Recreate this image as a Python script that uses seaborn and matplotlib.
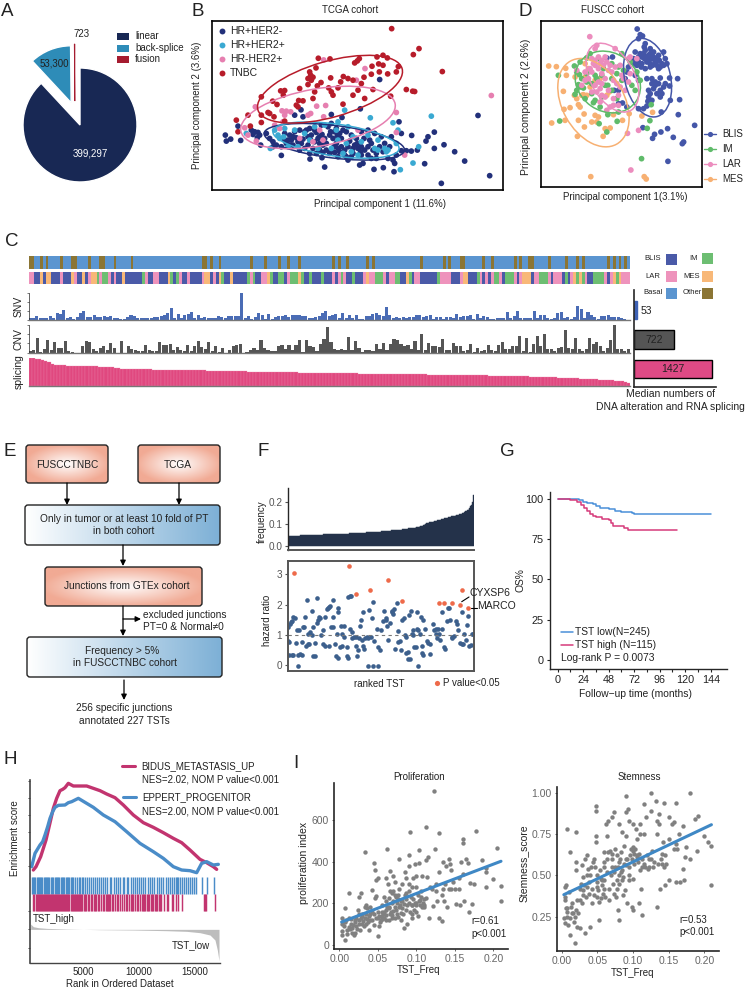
import numpy as np
import pandas as pd
import seaborn as sns
import matplotlib.pyplot as plt
from matplotlib.colors import ListedColormap
from matplotlib.patches import Ellipse, FancyBboxPatch, Rectangle

W, H = 745, 989
DARK = '#222222'

##############################
### DATA
##############################

# A
pie_labels = ['fusion', 'back-splice', 'linear']
pie_values = [723, 53300, 399297]

# B, PC scores on an arbitrary scale
tcga_navy = [(62,360),(65,378),(78,372),(108,376),(100,333),(140,345),(150,350),(160,352),(145,358),(165,360),(158,368),(168,390),
  (230,421),(205,380),(215,390),(230,395),(245,385),(250,375),(265,390),(280,380),(290,385),(255,360),(270,350),(285,345),(300,350),
  (310,365),(320,360),(330,380),(345,385),(355,390),(360,370),(375,360),(385,370),(395,385),(310,390),(325,400),(345,405),(365,405),
  (380,410),(400,400),(410,395),(420,405),(430,395),(450,390),(460,400),(470,395),(480,405),(490,395),(500,385),(315,340),(330,345),
  (350,330),(370,335),(380,325),(390,350),(405,355),(425,350),(440,360),(455,370),(470,350),(490,345),(510,355),(530,365),(540,385),
  (555,395),(560,365),(316,432),(352,428),(360,456),(430,435),(465,450),(475,445),(508,463),(536,458),(568,470),(590,407),(605,407),
  (620,408),(638,405),(575,420),(565,435),(570,445),(660,446),(689,400),(718,389),(750,410),(780,438),(710,505),(855,482),(820,301),
  (689,351),(670,365),(664,378),(621,361),(583,320),(590,355),(289,284),(295,305),(270,300),(412,307),(380,298),(467,281),(525,193),
  (400,425),(420,420),(440,425),(375,415),(550,430),(500,430),(240,355),(260,375),(275,368),(295,372),(305,345),(318,375),(335,352),
  (340,370),(352,358),(365,385),(378,350),(388,395),(398,362),(410,370),(415,345),(435,378),(445,400),(458,385),(468,410),(478,370),
  (495,375),(505,405),(515,415),(525,395),(535,410),(285,405),(300,400),(315,415),(335,415),(355,412),(390,412),(405,410),(425,425),
  (445,415),(470,420),(490,420),(515,430),(345,365),(395,340),(265,365),(255,390),(240,375),(195,370),(185,355),(205,395)]
tcga_blue = [(680,303),(497,308),(420,285),(565,323),(580,345),(642,395),(625,444),(587,464),(197,400),(237,365),(220,360),(250,395),
  (270,345),(400,320),(395,345),(430,335),(490,360),(520,375),(540,400),(545,410),(425,385),(440,410),(415,415),(400,375),(510,400),
  (520,405),(460,420),(470,380),(300,355),(330,335),(340,400),(380,400),(240,340),(210,345),(225,370),(445,365),(125,355),(360,330),
  (280,395),(315,375),(550,405),(575,385)]
tcga_pink = [(357,134),(481,160),(455,195),(860,241),(336,273),(363,271),(232,287),(245,288),(258,290),(318,295),(310,300),(357,305),
  (152,275),(120,338),(575,292),(575,352),(235,320),(225,340),(285,370),(345,345),(355,375),(325,380),(460,345),(600,420),(130,360),
  (155,378),(240,300),(210,330)]
tcga_red = [(561,40),(643,100),(626,118),(713,169),(341,129),(376,131),(464,130),(458,137),(450,143),(517,125),(535,120),(548,128),
  (522,146),(535,150),(581,154),(502,153),(334,158),(575,170),(549,176),(500,177),(478,186),(416,184),(378,188),(315,170),(318,180),
  (325,186),(310,190),(320,195),(349,202),(338,212),(310,208),(285,220),(240,226),(228,227),(236,240),(170,245),(204,258),(217,268),
  (330,230),(325,250),(295,257),(282,256),(275,270),(280,275),(372,218),(380,230),(385,240),(400,218),(408,200),(445,240),(480,250),
  (505,223),(558,243),(605,223),(624,228),(630,229),(445,195),(430,190),(170,300),(190,292),(195,295),(208,305),(130,300),(95,315),
  (137,333),(100,350),(170,322),(240,318),(415,267),(460,225),(470,205),(524,170)]
# centre x, centre y, width, height, angle of each group ellipse, read in PC units
tcga_ellipses = {'HR+HER2-': (389, 380, 424, 98, 7), 'HR+HER2+': (394, 375, 382, 96, 8),
                 'HR-HER2+': (340, 307, 470, 172, -10), 'TNBC': (376, 222, 450, 168, -16)}

# D
fuscc_blis = [(306,41),(315,58),(322,62),(310,70),(330,85),(327,95),(300,110),(315,115),(330,105),(345,100),(355,110),(370,120),
  (385,110),(390,130),(340,120),(350,130),(360,140),(345,145),(335,140),(320,125),(310,140),(318,155),(330,160),(345,155),(370,160),
  (385,150),(375,155),(280,155),(295,130),(300,180),(310,195),(335,190),(350,190),(375,188),(403,188),(427,190),(370,205),(360,210),
  (355,220),(403,212),(385,215),(375,225),(345,235),(340,245),(350,255),(375,245),(405,255),(433,253),(310,280),(325,280),(335,272),
  (378,290),(429,298),(478,330),(323,337),(377,350),(397,340),(358,357),(352,369),(414,366),(445,380),(441,385),(398,438),(250,265),
  (262,263),(275,275),(237,225),(250,225),(275,170),(270,190),(215,128),(232,125),(325,115),(335,125),(345,115),(352,122),(362,128),
  (372,135),(380,145),(340,132),(328,130),(305,150),(298,145),(352,150),(365,150),(395,145),(360,200),(350,205),(390,205),(380,235),
  (340,225),(338,258),(365,235),(320,145),(310,125)]
fuscc_im = [(118,152),(70,180),(125,170),(133,178),(130,208),(125,225),(120,237),(135,215),(165,115),(155,128),(190,130),(205,160),
  (180,180),(185,190),(155,200),(145,218),(170,235),(150,250),(175,262),(195,275),(245,175),(230,145),(260,115),(210,210),(218,210),
  (245,250),(218,298),(250,290),(300,225),(290,210),(305,170),(315,195),(74,317),(192,325),(246,318),(215,350),(344,316),(336,339),
  (348,268),(319,430),(135,140),(200,180),(230,190),(170,205),(155,175),(250,155),(265,165),(285,140),(260,195),(230,225),(200,245),
  (180,255),(140,190)]
fuscc_lar = [(164,64),(180,100),(185,90),(240,100),(170,130),(180,135),(190,125),(195,145),(210,125),(215,140),(180,150),(165,160),
  (150,170),(125,165),(220,165),(230,170),(255,150),(280,130),(285,125),(305,130),(190,200),(170,230),(185,230),(200,240),(220,225),
  (195,260),(215,285),(235,270),(250,240),(270,225),(280,200),(285,175),(310,345),(277,354),(287,464),(265,190),(245,205),(140,210),
  (160,190),(200,135),(205,150),(175,145),(190,160),(225,150),(240,155),(170,170),(200,175),(210,190),(235,195),(180,210),(195,220),
  (210,245),(235,250),(255,215),(260,180),(150,195),(225,275),(250,270),(200,205)]
fuscc_mes = [(41,152),(64,154),(92,159),(94,180),(150,145),(150,185),(120,185),(85,228),(155,240),(145,238),(118,240),(105,277),
  (87,282),(130,268),(135,275),(147,296),(190,305),(130,315),(90,315),(50,323),(148,335),(170,320),(185,320),(210,340),(225,338),
  (127,363),(204,363),(262,315),(282,295),(320,302),(352,291),(235,298),(222,230),(195,190),(167,484),(327,484),(333,491),(160,160),
  (180,195),(140,240),(165,215),(125,250),(215,240),(180,300)]
fuscc_ellipses = {'BLIS': (337, 187, 240, 137, 77), 'MES': (175, 262, 285, 186, 61),
                  'IM': (218, 200, 205, 175, 35), 'LAR': (232, 187, 225, 130, 61)}

# C
other_samples = [0,1,4,6,11,15,16,21,25,26,30,36,61,62,64,67,78,83,88,91,95,107,109,112,119,121,138,146,148,152,153,160,163,171,173,
  176,177,183,189,193,195,204,206,208,210]
subtype_runs = ('L2 B2 M1 B1 M2 B3 L1 B3 M1 L1 B2 M1 B1 L1 M2 I1 L1 I2 L1 B1 L1 B2 M1 B2 B4 I1 L1 B2 L2 B3 M1 I1 B1 I1 L1 B2 L1 B4 L1 M2 '
  'B1 L1 B1 M1 I1 B2 M1 B5 I1 L1 I1 B2 L2 M1 I1 B2 I2 B1 L1 I3 M1 I1 B2 I1 B3 I1 B3 L1 B1 L1 I1 L1 B2 I1 B3 L1 M1 L2 I3 L1 B1 L2 I2 B2 '
  'M1 I1 B1 L2 B6 I1 L4 B3 L1 M2 B3 I1 L1 B1 L1 B1 L1 I2 L1 B1 I3 L1 B1 L1 M3 B1 L2 I3 L1 B1 L3 B1 I1 B1 L1 M1 I1 M1 I1 L1 B2 I4 L1 B1 '
  'L1 M1 I1 M1 L3')
snv_values = [5,5,11,5,5,5,9,3,18,15,27,5,7,1,8,18,24,6,6,12,8,8,11,8,9,5,5,2,2,8,13,9,4,5,5,3,5,8,8,10,12,20,35,5,16,3,12,15,23,3,14,5,
  6,5,3,3,10,8,3,9,9,11,9,78,3,10,1,6,20,14,1,16,1,8,10,9,14,6,13,12,13,9,10,4,4,7,10,20,24,10,12,15,3,
  18,5,14,5,14,1,1,10,10,15,18,12,10,38,12,3,8,3,6,3,8,8,12,14,6,10,12,2,8,8,2,7,6,3,16,6,10,9,12,2,17,3,9,8,1,2,3,4,4,22,4,10,24,4,4,3,
  5,26,3,12,12,3,2,3,20,23,3,6,2,7,40,30,3,22,12,6,2,9,9,12,8,7,6,4,1,0]
cnv_values = [3,8,44,2,10,36,8,32,13,13,33,5,2,0,0,18,33,32,10,5,12,18,6,29,13,0,35,0,20,9,6,4,4,23,6,5,3,32,23,22,26,8,16,6,3,22,3,18,
  35,15,10,32,3,18,2,12,0,6,18,22,25,0,2,6,14,6,36,13,8,5,5,18,22,9,23,6,22,36,2,38,20,15,4,25,40,77,30,9,6,
  10,8,46,8,35,12,2,8,8,5,25,10,28,7,25,40,38,25,20,22,10,35,8,54,8,28,18,18,15,40,8,6,28,20,18,3,6,25,2,12,5,6,22,6,3,21,32,9,10,18,18,
  48,4,42,1,25,50,18,54,9,10,5,14,16,68,14,10,42,10,3,10,42,24,30,18,3,12,38,82,10,10,5,10]
splicing_values = [81,80,79,78,76,72,68,64,61,60,59,59,58,58,58,58,58,57,57,57,56,56,55,55,55,54,54,53,52,50,50,49,49,49,49,49,48,48,48,
  47,47,47,47,47,47,46,46,46,46,46,45,45,45,45,45,45,44,44,44,44,43,43,43,43,42,42,42,42,42,41,41,41,41,41,40,40,40,40,40,40,39,39,39,39,
  39,38,38,38,38,38,38,37,37,37,37,37,37,36,36,36,36,36,36,36,35,35,35,35,35,35,35,34,34,34,34,34,34,34,33,33,33,33,33,33,33,33,32,32,32,
  32,32,32,32,31,31,31,31,31,31,30,30,30,30,30,30,29,29,29,29,29,28,28,28,28,27,27,27,27,26,26,26,25,25,25,24,24,24,23,23,22,22,22,21,21,
  20,20,19,19,18,18,17,17,16,15,15,14,13,12,10,6]
median_names = ['SNV', 'CNV', 'splicing']
median_values = [53, 722, 1427]

# F
tst_frequency = [v / 1000 for v in [45,45,46,46,46,46,46,47,47,47,47,47,47,47,48,48,48,48,48,48,48,49,49,49,49,49,49,49,50,50,
  50,50,50,50,50,50,51,51,51,51,51,51,51,52,52,52,52,52,52,52,52,53,53,53,53,53,53,54,54,54,54,54,54,55,55,55,55,55,55,56,
  56,56,56,56,56,57,57,57,57,57,58,58,58,58,58,58,59,59,59,59,60,60,60,60,60,61,61,61,61,62,62,62,62,63,63,63,63,64,64,64,
  64,65,65,65,66,66,66,67,67,67,68,68,68,69,69,69,70,70,70,71,71,71,72,72,72,73,73,74,74,75,75,76,76,77,77,78,78,79,79,80,
  80,81,81,82,83,83,84,84,85,86,87,88,89,90,92,94,96,98,100,102,103,104,105,106,107,108,109,110,111,112,113,114,115,116,117,118,119,120,121,122,
  123,124,125,126,127,128,129,130,131,132,133,134,135,136,137,138,139,140,141,142,143,144,146,148,150,152,154,156,158,160,163,167,172,178,186,200,230]]
hr_other = [(100,1.25),(106,1.35),(108,1.42),(110,1.45),(113,1.6),(120,1.57),(100,.8),(103,.78),(103,.33),(110,.33),(115,.34),(122,.75),
  (125,1.15),(132,1.17),(128,.35),(135,.37),(140,.35),(130,-.02),(142,.77),(145,1.28),(148,1.25),(150,1.6),(155,2.15),(152,.65),(158,.7),
  (162,.7),(160,1.05),(165,1.1),(170,1.0),(172,1.8),(175,1.25),(180,.75),(173,.31),(180,.32),(185,2.22),(185,1.4),(190,1.5),(192,1.6),
  (195,1.55),(198,1.0),(205,1.15),(205,.7),(210,.65),(210,1.6),(215,1.85),(218,1.88),(222,1.93),(226,1.95),(222,.65),(228,1.25),(235,1.28),
  (233,2.17),(235,1.6),(240,.7),(245,1.05),(243,.3),(250,.25),(248,1.75),(248,1.88),(258,1.3),(268,1.3),(255,.6),(262,1.05),(260,.65),
  (268,.95),(275,.3),(278,.25),(277,.6),(285,1.2),(278,2.25),(284,2.27),(288,2.28),(292,1.1),(292,.9),(297,.93),(302,.95),(304,.65),(310,.5),
  (307,.3),(312,.9),(315,1.3),(318,1.5),(323,1.77),(322,.85),(325,.65),(328,.55),(331,.9),(335,.95),(342,1.82),(340,.9),(348,.93),(352,1.55),
  (355,2.1),(357,.8),(365,1.2),(370,.6),(375,.5),(378,1.15),(388,1.8),(385,1.45),(392,1.5),(394,1.55),(395,1.3),(400,.85),(405,1.4),(412,1.8),
  (410,1.75),(416,1.85),(415,1.7),(420,.55),(425,2.05),(428,1.12),(430,.78),(435,.8),(437,.5),(440,1.5),(448,1.55),(450,1.0),(452,.95),(454,.4),
  (458,.45),(460,.2),(464,.2),(462,1.65),(468,1.78),(472,1.05),(475,1.15),(478,.6),(482,.6),(485,1.75),(487,1.2),(490,1.18),(495,1.05),
  (498,1.6),(502,.65),(505,1.5),(510,1.2),(515,.8),(520,.75),(525,.72),(524,.37),(503,.35),(500,.4),(534,1.35),(536,1.18),(542,1.2),(546,.9),
  (550,1.2),(552,1.05),(556,.85),(560,1.75),(562,1.2),(568,.6),(570,.55),(575,1.47),(583,1.88),(578,1.88),(585,1.5),(590,.9),(592,.95),
  (598,.97),(602,1.45),(605,1.35),(610,1.15),(615,.75),(620,.72),(622,1.77),(625,.7),(628,1.02),(632,.85),(636,1.33),(640,1.62),(643,.65),
  (648,.68),(650,1.05),(655,1.05),(490,-.03),(338,-.02),(353,-.02),(368,-.02),(475,1.0),(544,1.03)]
hr_signif = [(118,3.05),(282,3.28),(302,2.35),(345,2.5),(399,2.8),(441,2.13),(551,2.04),(568,2.05),(591,2.07),(615,2.0),(622,2.5),(639,1.88)]

# G
os_low_time = [0,12,14,20,24,28,33,36,40,48,54,60,66,70,72,120,144]
os_low_surv = [100,100,99.5,99,98,97.5,96.5,95.5,94.5,93.5,92.5,91.8,91.5,91,90.5,90.5,90.5]
os_high_time = [0,9,12,18,22,25,28,30,33,36,42,48,50,52,58,62,66,112]
os_high_surv = [100,100,99,98,96,94,92.5,90.5,89,88.5,87.5,86.5,85,83,82.8,81.5,80.5,80.5]

# H, rank and score read in picture units, converted in gsea_rank and gsea_score
bidus_curve = [(100,450),(108,440),(115,425),(122,410),(130,385),(138,360),(145,330),(152,300),(160,265),(170,235),(180,212),(188,208),(195,203),
  (205,190),(220,198),(240,198),(260,198),(280,205),(300,212),(320,222),(345,233),(370,255),(400,285),(430,308),(460,322),(490,338),(520,355),
  (545,368),(570,390),(600,418),(620,428),(640,440),(650,448)]
eppert_curve = [(95,440),(105,400),(120,375),(128,365),(135,345),(143,320),(150,295),(158,275),(165,262),(175,256),(195,255),(205,248),(215,245),
  (235,235),(255,247),(280,262),(310,285),(345,305),(380,335),(420,370),(460,395),(490,415),(520,440),(545,450),(570,452),(590,458),(605,430),
  (620,425),(640,435),(655,433)]
eppert_hits = [95,98,102,106,110,113,117,120,124,127,131,134,138,141,145,148,152,156,160,164,167,171,175,178,182,186,189,193,197,200,204,
  208,212,216,220,226,232,236,241,246,250,255,260,268,272,278,284,290,297,303,310,316,322,330,334,341,347,354,360,368,373,380,385,393,
  400,405,410,416,423,430,436,443,450,456,462,470,478,484,490,497,504,509,516,521,528,532,535,540,547,552,557,563,569,575,581,588,605,620,641]
bidus_hits = [100,103,107,110,113,116,119,122,125,128,131,134,137,140,143,146,149,152,155,158,161,164,167,170,173,176,179,182,185,188,191,
  194,197,200,203,206,212,215,218,222,225,228,231,234,237,240,243,246,252,255,258,264,268,273,276,282,286,289,293,298,302,308,312,317,320,
  323,327,331,335,340,345,350,355,360,366,371,378,382,387,392,396,400,405,410,415,420,425,430,433,436,440,444,448,452,456,460,464,468,472,
  476,480,483,492,500,504,516,520,527,533,545,612,615,618,646]
rank_metric = [(92,612),(100,620),(115,623),(140,625),(200,627),(300,629),(400,630),(500,632),(560,634),(600,638),(630,645),(645,660),(652,690),(657,722)]

# I
prolif_pts = [(.003,130),(.003,65),(.003,50),(.005,110),(.006,90),(.007,175),(.008,25),(.009,120),(.01,70),(.01,55),(.012,250),(.013,130),
  (.014,75),(.016,60),(.018,95),(.019,50),(.02,120),(.02,60),(.022,130),(.022,90),(.024,170),(.025,230),(.026,120),(.027,70),(.028,250),
  (.029,150),(.03,100),(.03,140),(.032,90),(.033,180),(.034,445),(.035,190),(.036,175),(.036,125),(.037,110),(.038,70),(.04,180),(.04,150),
  (.042,265),(.043,160),(.045,95),(.045,395),(.046,225),(.046,360),(.047,310),(.048,235),(.05,320),(.05,130),(.05,45),(.052,90),(.053,110),
  (.055,190),(.056,160),(.057,150),(.058,130),(.06,210),(.06,145),(.061,320),(.062,460),(.063,290),(.064,120),(.065,225),(.066,355),(.067,160),
  (.068,200),(.069,145),(.07,330),(.07,260),(.072,300),(.072,180),(.074,230),(.075,150),(.076,240),(.077,270),(.078,410),(.079,190),(.08,120),
  (.081,290),(.082,175),(.083,150),(.084,80),(.085,350),(.086,320),(.087,220),(.088,100),(.09,430),(.09,380),(.09,290),(.092,540),(.093,230),
  (.094,190),(.095,130),(.096,320),(.097,170),(.098,390),(.099,330),(.1,200),(.1,160),(.102,240),(.103,395),(.104,455),(.105,190),(.106,260),
  (.108,330),(.109,200),(.11,220),(.112,565),(.113,405),(.114,325),(.115,420),(.116,130),(.118,280),(.12,270),(.122,185),(.123,740),(.124,460),
  (.125,290),(.127,210),(.13,535),(.13,350),(.13,130),(.133,240),(.134,115),(.135,400),(.136,210),(.137,290),(.138,380),(.14,180),(.142,270),
  (.143,410),(.144,390),(.145,360),(.148,300),(.15,270),(.152,195),(.155,270),(.157,190),(.158,400),(.16,510),(.16,490),(.16,340),(.162,210),
  (.165,410),(.167,395),(.168,160),(.17,295),(.172,195),(.175,290),(.178,545),(.185,405),(.19,370),(.19,350),(.191,280),(.2,315),(.205,465),
  (.21,285),(.21,210),(.06,170),(.07,210),(.08,210),(.085,240),(.09,260),(.095,190),(.1,280),(.105,215),(.11,180),(.065,180),(.075,200),
  (.055,140),(.045,150),(.035,150),(.025,150),(.015,125),(.125,260),(.135,270),(.145,270),(.155,320),
  (.004,100),(.008,110),(.012,85),(.015,100),(.017,80),(.021,110),(.023,75),(.026,100),(.028,130),(.031,115),(.033,130),(.035,100),(.038,140),
  (.04,120),(.043,120),(.047,130),(.05,160),(.052,140),(.054,120),(.056,125),(.058,160),(.06,120),(.062,180),(.064,175),(.066,150),(.068,130),
  (.07,165),(.072,130),(.074,170),(.076,135),(.078,180),(.08,155),(.082,210),(.084,195),(.086,170),(.088,190),(.09,200),(.092,160),(.094,150),
  (.096,220),(.098,200),(.1,190),(.102,140),(.104,210),(.106,230),(.108,180),(.11,190),(.112,225),(.072,240),(.066,260),(.058,230),(.086,250),
  (.094,280),(.076,220),(.068,250)]
stem_pts = [(.003,.24),(.004,.37),(.004,.43),(.005,.21),(.006,.44),(.007,.78),(.007,.28),(.008,.3),(.009,.2),(.01,.4),(.011,.64),(.012,.14),
  (.013,.31),(.015,.33),(.016,.27),(.018,.25),(.019,.09),(.02,.76),(.02,.58),(.02,.53),(.02,.29),(.022,.19),(.025,.18),(.025,.35),(.027,.45),
  (.028,.56),(.03,.49),(.03,.38),(.032,.15),(.033,.6),(.035,.62),(.035,.43),(.037,.54),(.038,.39),(.04,.5),(.04,.19),(.042,.33),(.044,.58),
  (.046,.6),(.047,.55),(.048,.92),(.048,.89),(.048,.74),(.048,.7),(.05,.5),(.05,.37),(.052,.23),(.053,.34),(.055,.48),(.056,.47),(.058,.39),
  (.06,.64),(.06,.58),(.06,.42),(.062,.81),(.063,.74),(.064,.52),(.065,.83),(.066,.35),(.068,.65),(.07,.85),(.07,.55),(.072,.45),(.074,.88),
  (.075,.66),(.076,.37),(.077,.62),(.078,.42),(.079,.29),(.08,.81),(.08,.5),(.08,.23),(.082,.6),(.083,.52),(.084,.47),(.085,.76),(.086,.38),
  (.088,.68),(.09,.98),(.09,.88),(.09,.74),(.09,.56),(.091,.33),(.093,.9),(.094,.5),(.095,.83),(.096,.62),(.098,.31),(.1,.81),(.1,.65),(.1,.48),
  (.1,.29),(.102,.57),(.104,.78),(.105,.72),(.106,.61),(.108,.33),(.11,.81),(.11,.75),(.11,.53),(.111,.42),(.112,.26),(.113,.55),(.115,.93),
  (.116,.75),(.118,.85),(.12,.62),(.121,.54),(.123,.55),(.125,1.0),(.125,.89),(.127,.65),(.13,.58),(.132,.95),(.133,.83),(.133,.75),(.134,.31),
  (.136,.87),(.137,.81),(.138,.42),(.14,.57),(.142,.7),(.144,.94),(.145,.44),(.146,.57),(.15,.85),(.151,.47),(.155,.81),(.157,.82),(.158,.66),
  (.16,.94),(.16,.46),(.162,.66),(.165,.75),(.166,.46),(.17,.8),(.17,.54),(.171,.47),(.173,.61),(.175,.67),(.18,1.0),(.18,.6),(.187,.84),(.19,.65),
  (.191,.86),(.2,.74),(.205,.7),(.21,.68),(.21,.44),(.03,.41),(.05,.43),(.06,.47),(.065,.64),(.07,.63),(.075,.55),(.08,.58),(.085,.53),(.09,.6),
  (.095,.55),(.1,.67),(.105,.62),(.115,.57),(.125,.6),(.135,.57),(.14,.63),(.15,.72),(.16,.69),(.145,.62),(.055,.36),
  (.004,.35),(.006,.3),(.008,.25),(.012,.24),(.014,.27),(.017,.22),(.021,.35),(.023,.27),(.026,.42),(.029,.33),(.031,.44),(.034,.37),(.036,.5),
  (.039,.46),(.041,.55),(.043,.42),(.045,.38),(.049,.46),(.051,.41),(.054,.53),(.057,.44),(.059,.55),(.061,.37),(.063,.6),(.067,.42),(.069,.5),
  (.071,.6),(.073,.39),(.074,.52),(.077,.47),(.079,.55),(.081,.45),(.083,.64),(.086,.49),(.087,.57),(.089,.41),(.092,.6),(.094,.47),(.097,.66),
  (.099,.6),(.101,.63),(.103,.66),(.107,.58),(.109,.63),(.112,.6),(.117,.55),(.122,.6),(.128,.55),(.139,.6),(.143,.55)]

##############################
### SETUP
##############################

sns.set_style('ticks')
plt.rcParams['font.family'] = ['Liberation Sans', 'DejaVu Sans']
plt.rcParams['font.size'] = 7
plt.rcParams['axes.linewidth'] = 1

fig = plt.figure(figsize=(W / 100, H / 100), dpi=100)

def add_ax(l, t, r, b):
  return fig.add_axes([l / W, 1 - b / H, (r - l) / W, (b - t) / H])

def bare(ax):
  ax.set(xticks=[], yticks=[], xlabel='', ylabel='')

def set_spine(ax, lw=1.2, color='black'):
  for s in ax.spines.values():
    s.set_linewidth(lw)
    s.set_color(color)

def group_ellipse(ax, params, color):
  cx, cy, w, h, angle = params
  ax.add_patch(Ellipse((cx, cy), w, h, angle=angle, fill=False, edgecolor=color, lw=1.1, zorder=5))

def scatter_groups(ax, groups, palette, size):
  df = pd.concat([pd.DataFrame(pts, columns=['pc1', 'pc2']).assign(group=name) for name, pts in groups.items()])
  sns.scatterplot(data=df, x='pc1', y='pc2', hue='group', palette=palette, s=size, linewidth=0, legend=False, ax=ax)

# page layer for the letters, flow chart and hand placed keys
page = fig.add_axes([0, 0, 1, 1], zorder=10)
page.patch.set_alpha(0)
page.axis('off')

def letter(s, x, y):
  page.text(x, y, s, fontsize=13.5, ha='center', va='center', color=DARK)

def txt(x, y, s, ha='center', size=7, color=DARK, rot=0):
  page.text(x, y, s, ha=ha, va='center', fontsize=size, color=color, rotation=rot)

##############################
### A
##############################
ax = add_ax(-15, 30, 175, 220)
wedges, _ = ax.pie(pie_values, colors=['#A51C30', '#2E8CB8', '#182854'], startangle=90, explode=[0.42, 0.42, 0], radius=1)
wedges[0].set_center((-0.09, 0.42))
wedges[0].set_edgecolor('#A51C30')
wedges[0].set_linewidth(0.6)
ax.set(xlim=(-1.667, 1.667), ylim=(-1.667, 1.667))
letter('A', 7, 11)
txt(82, 34, '723')
txt(54, 64, '53,300')
txt(90, 153, '399,297', color='white')
for y, c, s in zip([36, 48, 59], ['#182854', '#2E8CB8', '#A51C30'], ['linear', 'back-splice', 'fusion']):
  page.add_patch(Rectangle((117, y - 3.5), 12, 7, color=c, lw=0))
  txt(135, y, s, ha='left')

##############################
### B
##############################
ax = add_ax(212, 21, 503, 190)
tcga_colors = {'HR+HER2-': '#22307A', 'HR+HER2+': '#3AA9D2', 'HR-HER2+': '#E67FB0', 'TNBC': '#B71C2A'}
tcga_groups = {'HR+HER2-': tcga_navy, 'HR+HER2+': tcga_blue, 'HR-HER2+': tcga_pink, 'TNBC': tcga_red}
scatter_groups(ax, tcga_groups, tcga_colors, 17)
for name, params in tcga_ellipses.items():
  group_ellipse(ax, params, tcga_colors[name])
ax.set(xlim=(22, 895), ylim=(525, 17))
bare(ax)
set_spine(ax)
letter('B', 198, 11)
txt(350, 10, 'TCGA cohort')
txt(380, 204, 'Principal component 1 (11.6%)')
txt(197, 105, 'Principal component 2 (3.6%)', rot=90)
for y, name in zip([31, 45, 59, 73], tcga_colors):
  page.scatter([222], [y], s=18, color=tcga_colors[name], lw=0)
  txt(230, y, name, ha='left', size=7.5)

##############################
### D
##############################
ax = add_ax(541, 21, 702, 187)
fuscc_colors = {'BLIS': '#4456A8', 'IM': '#5FBB6A', 'LAR': '#EC8DBE', 'MES': '#F7B072'}
fuscc_groups = {'BLIS': fuscc_blis, 'MES': fuscc_mes, 'IM': fuscc_im, 'LAR': fuscc_lar}
scatter_groups(ax, fuscc_groups, fuscc_colors, 17)
for name, params in fuscc_ellipses.items():
  group_ellipse(ax, params, fuscc_colors[name])
ax.set(xlim=(18, 500), ylim=(515, 17))
bare(ax)
set_spine(ax)
letter('D', 525, 11)
txt(613, 10, 'FUSCC cohort')
txt(625, 197, 'Principal component 1(3.1%)')
txt(526, 107, 'Principal component 2 (2.6%)', rot=90, size=7.5)
for y, name in zip([134, 149, 164, 179], ['BLIS', 'IM', 'LAR', 'MES']):
  page.plot([704, 716], [y, y], color=fuscc_colors[name], lw=1, marker='o', ms=0)
  page.scatter([710], [y], s=14, color=fuscc_colors[name], lw=0)
  txt(722, y, name, ha='left')

##############################
### C
##############################
C_COLORS = ['#5B95D0', '#8B7534', '#4A5AA8', '#6DBE72', '#EE93BC', '#F8B878']
C_CODE = {'B': 2, 'I': 3, 'L': 4, 'M': 5}
subtype_codes = [C_CODE[run[0]] for run in subtype_runs.split() for _ in range(int(run[1:]))]
basal_codes = [1 if i in other_samples else 0 for i in range(len(subtype_codes))]
for codes, (t, b) in zip([basal_codes, subtype_codes], [(256, 269), (272, 284)]):
  ax = add_ax(28.5, t, 630, b)
  sns.heatmap(np.array([codes]), cmap=ListedColormap(C_COLORS), vmin=0, vmax=5, cbar=False, xticklabels=False, yticklabels=False, ax=ax)

tracks = [(snv_values, '#4A6CB5', (293, 319.5), 78, 0.9, 0), (cnv_values, '#555555', (325, 352.5), 82, 0.9, 0),
          (splicing_values, '#E0487F', (358, 385.5), 81, 1, 0.2)]
for vals, col, (t, b), top, bw, edge in tracks:
  ax = add_ax(28.5, t, 630, b)
  sns.barplot(x=np.arange(len(vals)), y=vals, color=col, saturation=1, width=bw, linewidth=edge, edgecolor='#EC86AC', ax=ax)
  ax.set(xlim=(-0.5, len(vals) - 0.5), ylim=(0, top), xticks=[], xlabel='', ylabel='')
  ax.set_yticks(np.linspace(0, top, 4))
  ax.tick_params(axis='y', length=1.5, width=0.5, labelleft=False, color='#444444')
  sns.despine(ax=ax)
  ax.spines['bottom'].set_color('#777777')
  ax.spines['left'].set_linewidth(0.5)
  if col == '#E0487F':
    ax.spines['left'].set_visible(False)
    ax.tick_params(axis='y', length=0)
txt(19, 306, 'SNV', rot=90, size=7.5)
txt(19, 339, 'CNV', rot=90, size=7.5)
txt(19, 372, 'splicing', rot=90, size=7.5)

ax = add_ax(634, 290, 716, 387)
sns.barplot(x=median_values, y=median_names, hue=median_names, palette=['#3E62B5', '#555555', '#DE4A85'], saturation=1,
            width=0.63, legend=False, ax=ax, edgecolor='black', linewidth=1)
ax.patches[0].set_edgecolor('#3E62B5')
ax.set(xlim=(0, 1492), ylim=(2.61, -0.68), xticks=[], yticks=[], xlabel='', ylabel='')
sns.despine(ax=ax)
ax.spines['left'].set_linewidth(1.2)
ax.spines['bottom'].set_linewidth(1.2)
txt(641, 311, '53', ha='left', size=7.5)
txt(654, 340, '722', size=7.5)
txt(673, 369, '1427', size=7.5)
txt(670, 394, 'Median numbers of', size=7.5)
txt(670, 407, 'DNA alteration and RNA splicing', size=7.5)
letter('C', 12, 242)
for lab_x, sq_x, y, s, c in [(653, 671, 259, 'BLIS', C_COLORS[2]), (694, 707, 258, 'IM', C_COLORS[3]), (653, 671, 276, 'LAR', C_COLORS[4]),
                             (692, 707, 276, 'MES', C_COLORS[5]), (653, 671, 293, 'Basal', C_COLORS[0]), (692, 707, 293, 'Other', C_COLORS[1])]:
  page.add_patch(Rectangle((sq_x - 5.5, y - 5.5), 11, 11, color=c, lw=0))
  txt(lab_x, y, s, size=5.5)

##############################
### E
##############################
def grad_box(l, t, r, b, kind):
  yy, xx = np.mgrid[-1:1:60j, -1:1:160j]
  if kind == 'salmon':
    f = np.clip(np.sqrt(xx ** 2 + yy ** 2) / 1.05, 0, 1)[..., None]
    c = np.array([241, 170, 148]) / 255
  else:
    f = ((xx + 1) / 2)[..., None]
    c = np.array([125, 176, 214]) / 255
  im = page.imshow(1 + (c - 1) * f, extent=(l, r, b, t), aspect='auto', zorder=1)
  box = FancyBboxPatch((l, t), r - l, b - t, boxstyle='round,pad=0,rounding_size=3', fill=False, edgecolor=DARK, lw=1, zorder=2)
  page.add_patch(box)
  im.set_clip_path(box)

grad_box(26, 445, 108, 483, 'salmon')
grad_box(138, 445, 220, 483, 'salmon')
grad_box(25, 505, 220, 545, 'blue')
grad_box(45, 567, 202, 606, 'salmon')
grad_box(27, 637, 222, 677, 'blue')

for (x0, y0), (x1, y1) in [((67, 483), (67, 505)), ((179, 483), (179, 505)), ((123, 545), (123, 566)), ((123, 606), (123, 636)),
                           ((123, 619), (141, 619)), ((124, 680), (124, 700))]:
  page.annotate('', xy=(x1, y1), xytext=(x0, y0), arrowprops=dict(arrowstyle='-|>', color='black', lw=0.9, shrinkA=0, shrinkB=0, mutation_scale=8))

letter('E', 10, 451)
txt(67, 465, 'FUSCCTNBC', size=7.3)
txt(178, 465, 'TCGA', size=7.3)
txt(124, 519, 'Only in tumor or at least 10 fold of PT', size=7.3)
txt(124, 531, 'in both cohort', size=7.3)
txt(127, 586, 'Junctions from GTEx cohort', size=7.3)
txt(143, 615, 'excluded junctions', ha='left', size=7.3)
txt(143, 627, 'PT=0 & Normal\u22600', ha='left', size=7.3)
txt(122, 651, 'Frequency > 5%', size=7.3)
txt(125, 663, 'in FUSCCTNBC cohort', size=7.3)
txt(124, 708, '256 specific junctions', size=7.3)
txt(124, 721, 'annotated 227 TSTs', size=7.3)

##############################
### F
##############################
ax = add_ax(288.3, 488, 473.5, 550)
sns.barplot(x=np.arange(len(tst_frequency)), y=tst_frequency, color='#24324A', saturation=1, width=1, linewidth=0.3, edgecolor='#24324A', ax=ax)
ax.set(xlim=(-0.5, len(tst_frequency) - 0.5), ylim=(-0.018, 0.261), xticks=[], yticks=[0, 0.1, 0.2], yticklabels=['0.0', '0.1', '0.2'], xlabel='', ylabel='')
ax.tick_params(axis='y', labelsize=7.2, colors='#555555', length=2.5, pad=1.5)
sns.despine(ax=ax)
ax.spines['bottom'].set_linewidth(1.4)
ax.spines['bottom'].set_color('#555555')

ax = add_ax(287.7, 560.7, 473.7, 670.7)
df_other = pd.DataFrame(hr_other, columns=['rank', 'hr'])
df_sig = pd.DataFrame(hr_signif, columns=['rank', 'hr'])
ax.axhline(1, color='#777777', lw=0.8, ls=(0, (3, 3)))
sns.scatterplot(data=df_other, x='rank', y='hr', color='#3C5F8C', s=11, linewidth=0, ax=ax)
sns.scatterplot(data=df_sig, x='rank', y='hr', color='#EE6A4A', s=11, linewidth=0, ax=ax)
ax.set(xlim=(98, 656), ylim=(-0.176, 3.45), xticks=[], yticks=[0, 1, 2, 3], xlabel='', ylabel='')
ax.tick_params(axis='y', labelsize=7.2, colors='#555555', length=2.5, pad=1.5)
set_spine(ax, 1.4, '#555555')
letter('F', 263, 451)
txt(262, 522, 'frequency', rot=90)
txt(267, 620, 'hazard ratio', rot=90)
txt(379, 684, 'ranked TST')
page.scatter([437], [683], s=14, color='#EE6A4A', lw=0)
txt(443, 683, 'P value<0.05', ha='left')
txt(469, 592.7, 'CYXSP6', ha='left', size=7.5)
txt(476.7, 606, 'MARCO', ha='left', size=7.5)
page.plot([461.7, 469], [601.7, 597], color='black', lw=0.8)
page.plot([471, 476.7], [607.7, 607.7], color='black', lw=0.8)

##############################
### G
##############################
ax = add_ax(549.7, 491.7, 726.7, 668.7)
sns.lineplot(x=os_low_time, y=os_low_surv, color='#4A90D9', lw=1.1, drawstyle='steps-post', ax=ax)
sns.lineplot(x=os_high_time, y=os_high_surv, color='#D63A7A', lw=1.1, drawstyle='steps-post', ax=ax)
ax.set(xlim=(-7.5, 159), ylim=(-5.4, 104.3), xticks=np.arange(0, 145, 24), yticks=[0, 25, 50, 75, 100])
ax.set_xticks(np.arange(12, 145, 24), minor=True)
ax.tick_params(axis='both', labelsize=7.8, colors=DARK, length=2.5, width=0.8, pad=2)
ax.tick_params(axis='x', which='minor', length=2.5, width=0.8)
sns.despine(ax=ax)
letter('G', 507, 451)
txt(635.7, 694, 'Follow\u2212up time (months)', size=7.4)
txt(521, 580, 'OS%', rot=90, size=7.4)
page.plot([560.7, 573.3], [632, 632], color='#4A90D9', lw=1.1)
page.plot([560.7, 573.3], [645, 645], color='#D63A7A', lw=1.1)
txt(575.3, 632, 'TST low(N=245)', ha='left', size=7.4)
txt(575.3, 645, 'TST high (N=115)', ha='left', size=7.4)
txt(560.7, 658, 'Log-rank P = 0.0073', ha='left', size=7.4)

##############################
### H
##############################
def gsea_rank(pos):
  return (np.asarray(pos, dtype=float) - 83.4) * 30.03

def gsea_score(pos):
  return (437 - np.asarray(pos, dtype=float)) / 510

ax = add_ax(30, 780, 220, 962.7)
bidus = np.array(bidus_curve)
eppert = np.array(eppert_curve)
metric = np.array(rank_metric)
ax.fill_between(gsea_rank(metric[:, 0]), gsea_score(metric[:, 1]), gsea_score(628), color='#BDBDBD', lw=0)
ax.vlines(gsea_rank(eppert_hits), gsea_score(522), gsea_score(471), color='#4A8CC8', lw=1.05)
ax.vlines(gsea_rank(bidus_hits), gsea_score(572), gsea_score(522), color='#C2346F', lw=1.05)
sns.lineplot(x=gsea_rank(bidus[:, 0]), y=gsea_score(bidus[:, 1]), color='#C2346F', lw=2.4, sort=False, ax=ax)
sns.lineplot(x=gsea_rank(eppert[:, 0]), y=gsea_score(eppert[:, 1]), color='#4A8CC8', lw=2.4, sort=False, ax=ax)
ax.set(xlim=(gsea_rank(90), gsea_rank(660)), ylim=(gsea_score(728), gsea_score(180)), xticks=[5000, 10000, 15000],
       yticks=gsea_score([182, 233, 284, 335, 387, 437, 573, 628, 685]))
ax.tick_params(axis='x', labelsize=7, colors=DARK, length=0, pad=3)
ax.tick_params(axis='y', labelleft=False, length=1.5, width=0.6)
sns.despine(ax=ax)
ax.spines['left'].set_linewidth(1.2)
ax.spines['left'].set_color('#444444')
ax.spines['bottom'].set_color('#444444')
letter('H', 10, 760)
txt(15, 838, 'Enrichment score', rot=90)
txt(120, 984, 'Rank in Ordered Dataset')
page.plot([121.7, 135], [766, 766], color='#C2346F', lw=2.2)
page.plot([123, 136], [797, 797], color='#4A8CC8', lw=2.2)
txt(141, 766, 'BIDUS_METASTASIS_UP', ha='left')
txt(142, 780, 'NES=2.02, NOM P value<0.001', ha='left')
txt(142, 797, 'EPPERT_PROGENITOR', ha='left')
txt(142, 811, 'NES=2.00, NOM P value<0.001', ha='left')
txt(33, 919, 'TST_high', ha='left')
txt(172, 945, 'TST_low', ha='left')

##############################
### I
##############################
def corr_panel(ax, pts, xlim, ylim, yticks, yfmt):
  df = pd.DataFrame(pts, columns=['freq', 'val'])
  sns.regplot(data=df, x='freq', y='val', ci=None, ax=ax, scatter_kws=dict(s=10, color='#808080', linewidths=0, alpha=1),
              line_kws=dict(color='#3F88C5', lw=2.2))
  ax.set(xlim=xlim, ylim=ylim, xticks=[0, 0.05, 0.1, 0.15, 0.2], yticks=yticks, xlabel='', ylabel='')
  ax.set_xticklabels(['0.00', '0.05', '0.10', '0.15', '0.20'])
  ax.set_yticklabels([yfmt.format(v) for v in yticks])
  ax.tick_params(axis='both', labelsize=7.5, colors='#666666', length=1.5, width=0.7, pad=2)
  sns.despine(ax=ax)
  ax.spines['left'].set_linewidth(1.2)
  ax.spines['bottom'].set_linewidth(1.2)

ax = add_ax(334, 783, 507.7, 949)
corr_panel(ax, prolif_pts, (-0.0069, 0.2187), (-19, 776), [0, 200, 400, 600], '{:d}')
ax = add_ax(556.7, 786.7, 718.7, 951)
corr_panel(ax, stem_pts, (-0.007, 0.2202), (0.0425, 1.036), [0.25, 0.5, 0.75, 1.0], '{:.2f}')
letter('I', 296, 763)
txt(418.7, 777, 'Proliferation')
txt(639, 777, 'Stemness')
txt(304, 862.7, 'proliferation index', rot=90, size=7.5)
txt(523.7, 862.7, 'Stemness_score', rot=90, size=7.5)
txt(419, 970, 'TST_Freq')
txt(632.7, 973, 'TST_Freq')
txt(471, 921, 'r=0.61', ha='left')
txt(471, 933.7, 'p<0.001', ha='left')
txt(679.7, 920, 'r=0.53', ha='left')
txt(679.7, 932, 'p<0.001', ha='left')

page.set(xlim=(0, W), ylim=(H, 0))
fig.savefig('out.png', dpi=100)
